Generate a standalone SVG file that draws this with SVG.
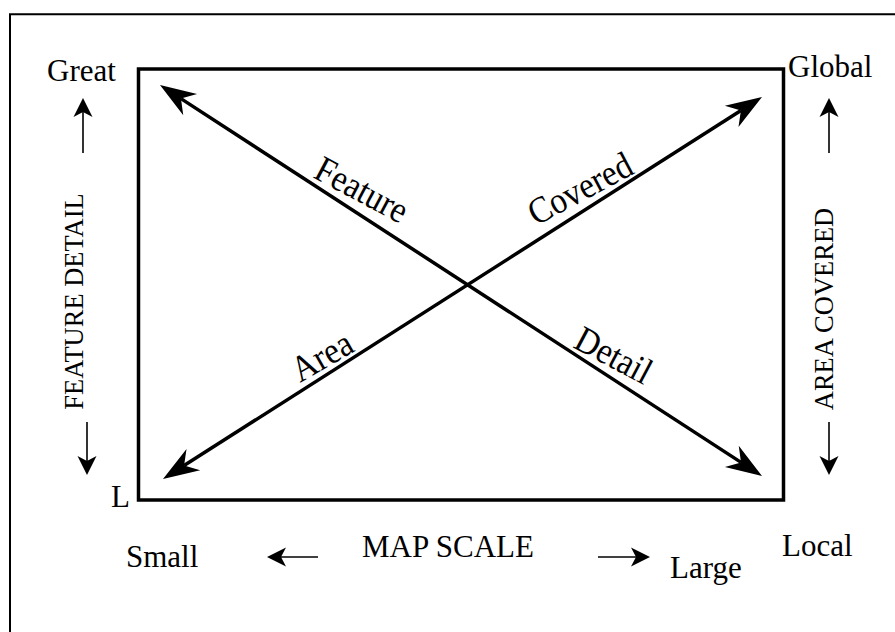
<svg xmlns="http://www.w3.org/2000/svg" width="895" height="632" viewBox="0 0 895 632">
<style>
text { font-family: "Liberation Serif", "Times New Roman", serif; fill: #000; }
.lbl { font-size: 31px; }
.vlbl { font-size: 26.5px; }
.diag { font-size: 37px; }
.frame { fill: none; stroke: #000; stroke-width: 2; }
.box { fill: none; stroke: #000; stroke-width: 3.5; }
.big { fill: none; stroke: #000; stroke-width: 3.5; marker-start: url(#bigHead); marker-end: url(#bigHead); }
.small { fill: none; stroke: #000; stroke-width: 1.6; marker-end: url(#smallHead); }
</style>
<defs>
<marker id="bigHead" markerUnits="userSpaceOnUse" viewBox="-12 -14 38 28" markerWidth="38" markerHeight="28" refX="0" refY="0" orient="auto-start-reverse" overflow="visible">
<path d="M25,0 L-11,-12.7 L0,0 L-11,12.7 Z" fill="#000"/>
</marker>
<marker id="smallHead" markerUnits="userSpaceOnUse" viewBox="-6 -11 22 22" markerWidth="22" markerHeight="22" refX="0" refY="0" orient="auto" overflow="visible">
<path d="M14,0 L-5,-9.5 L0,0 L-5,9.5 Z" fill="#000"/>
</marker>
</defs>
<rect width="895" height="632" fill="#fff"/>
<path class="frame" d="M10,632 V14.3 H895"/>
<g id="chart-box">
<rect class="box" x="138.5" y="69" width="645" height="431"/>
</g>
<g id="connectors">
<line class="big" x1="180.96" y1="98.6" x2="741.04" y2="462.4"/>
<line class="big" x1="184.08" y1="465.56" x2="740.92" y2="110.44"/>
<line class="small" x1="83" y1="153" x2="83" y2="112"/>
<line class="small" x1="87" y1="422" x2="87" y2="461"/>
<line class="small" x1="829" y1="153" x2="829" y2="112"/>
<line class="small" x1="829" y1="422" x2="829" y2="461"/>
<line class="small" x1="318" y1="557" x2="281" y2="557"/>
<line class="small" x1="598" y1="557" x2="636" y2="557"/>
</g>
<g id="diagonal-labels">
<text class="diag" transform="translate(312,177) rotate(28) scale(0.9,1)">Feature</text>
<text class="diag" transform="translate(572,347) rotate(28) scale(0.9,1)">Detail</text>
<text class="diag" transform="translate(300,383) rotate(-30) scale(0.9,1)">Area</text>
<text class="diag" transform="translate(536,226) rotate(-28) scale(0.9,1)">Covered</text>
</g>
<g id="axis-labels">
<text class="lbl" x="47" y="81">Great</text>
<text class="lbl" x="788" y="77">Global</text>
<text class="lbl" x="111" y="507">L</text>
<text class="lbl" x="126" y="567">Small</text>
<text class="lbl" x="362" y="557">MAP SCALE</text>
<text class="lbl" x="670" y="578">Large</text>
<text class="lbl" x="782" y="556">Local</text>
<text class="vlbl" text-anchor="middle" transform="translate(83,301.5) rotate(-90)">FEATURE DETAIL</text>
<text class="vlbl" text-anchor="middle" transform="translate(833,309) rotate(-90)">AREA COVERED</text>
</g>
</svg>
